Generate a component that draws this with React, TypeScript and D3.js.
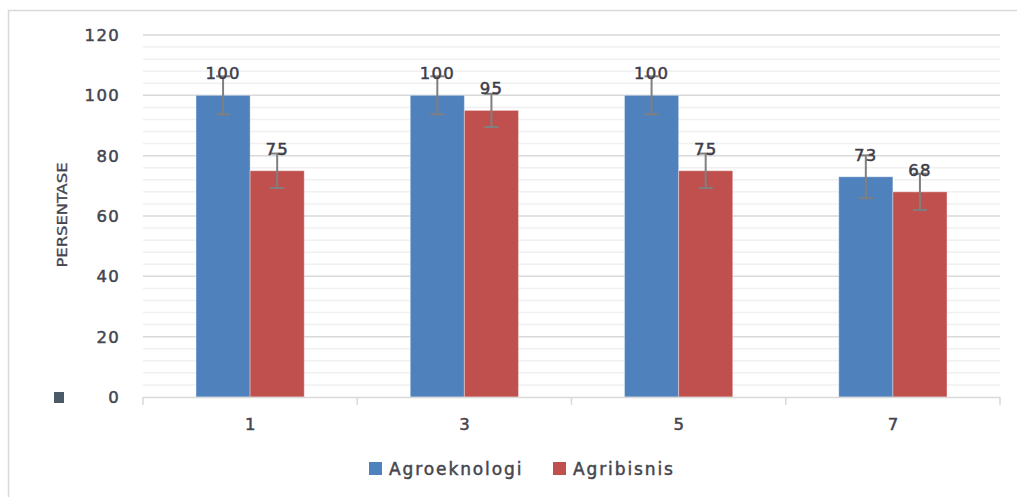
import { useEffect, useRef } from 'react';
import * as d3 from 'd3';

const categories = ['1', '3', '5', '7'];
const seriesNames = ['Agroeknologi', 'Agribisnis'];
const agroeknologi = [100, 100, 100, 73];
const agribisnis = [75, 95, 75, 68];
const agroeknologiErr = [6.3, 6.3, 6.3, 7.1];
const agribisnisErr = [5.7, 5.5, 5.7, 6.0];
const yTicks = [0, 20, 40, 60, 80, 100, 120];
const seriesColors = ['#4f81bd', '#c0504d'];

const FONT = '"DejaVu Sans", sans-serif';
const TEXT = '#45454f';

export default function App() {
  const ref = useRef<SVGSVGElement>(null);

  useEffect(() => {
    const svgElement = ref.current;
    if (!svgElement) {
      return;
    }
    const svg = d3.select(svgElement);
    svg.selectAll('*').remove();

    const width = 1017;
    const height = 497;
    const margin = { top: 35, right: 17, bottom: 100, left: 143 };
    const plotBottom = height - margin.bottom;

    svg.attr('viewBox', `0 0 ${width} ${height}`);

    svg
      .append('rect')
      .attr('x', 8.5)
      .attr('y', 10.5)
      .attr('width', 1030)
      .attr('height', 520)
      .attr('fill', '#fff')
      .attr('stroke', '#d9d9d9')
      .attr('stroke-width', 1.5);

    const x = d3
      .scaleBand<string>()
      .domain(categories)
      .range([margin.left, width - margin.right])
      .padding(0);

    const xInner = d3
      .scaleBand<string>()
      .domain(seriesNames)
      .range([0, x.bandwidth()])
      .paddingInner(0)
      .paddingOuter(0.98);

    const y = d3.scaleLinear().domain([0, 120]).range([plotBottom, margin.top]);

    // minor grid every 4, major every 20
    const minorTicks = d3.range(4, 120, 4).filter((v) => v % 20 !== 0);
    svg
      .append('g')
      .selectAll('line')
      .data(minorTicks)
      .join('line')
      .attr('x1', margin.left)
      .attr('x2', width - margin.right)
      .attr('y1', (v) => y(v))
      .attr('y2', (v) => y(v))
      .attr('stroke', '#f0f0f0')
      .attr('stroke-width', 1.5);

    svg
      .append('g')
      .selectAll('line')
      .data(yTicks.filter((v) => v > 0))
      .join('line')
      .attr('x1', margin.left)
      .attr('x2', width - margin.right)
      .attr('y1', (v) => y(v))
      .attr('y2', (v) => y(v))
      .attr('stroke', '#d9d9d9')
      .attr('stroke-width', 1.5);

    svg
      .append('g')
      .selectAll('text')
      .data(yTicks)
      .join('text')
      .attr('x', 120)
      .attr('y', (v) => y(v) + 6)
      .attr('text-anchor', 'end')
      .attr('font-family', FONT)
      .attr('font-size', 16.5)
      .attr('letter-spacing', 1.3)
      .attr('fill', TEXT)
      .attr('stroke', TEXT)
      .attr('stroke-width', 0.5)
      .text((v) => String(v));

    const rows = categories.map((cat, i) => ({
      cat,
      items: [
        { name: seriesNames[0], value: agroeknologi[i], err: agroeknologiErr[i], color: seriesColors[0] },
        { name: seriesNames[1], value: agribisnis[i], err: agribisnisErr[i], color: seriesColors[1] },
      ],
    }));

    const groups = svg
      .append('g')
      .selectAll('g')
      .data(rows)
      .join('g')
      .attr('transform', (row) => `translate(${x(row.cat) ?? 0},0)`);

    groups
      .selectAll('rect')
      .data((row) => row.items)
      .join('rect')
      .attr('x', (d) => xInner(d.name) ?? 0)
      .attr('y', (d) => y(d.value))
      .attr('width', xInner.bandwidth())
      .attr('height', (d) => plotBottom - y(d.value))
      .attr('fill', (d) => d.color)
      .attr('stroke', '#fff')
      .attr('stroke-opacity', 0.35)
      .attr('stroke-width', 1);

    // axis line and ticks
    const axis = svg.append('g');
    axis
      .append('line')
      .attr('x1', margin.left)
      .attr('x2', width - margin.right)
      .attr('y1', plotBottom + 0.5)
      .attr('y2', plotBottom + 0.5)
      .attr('stroke', '#d9d9d9')
      .attr('stroke-width', 1.5);
    axis
      .selectAll('line.tick')
      .data([...categories.map((c) => x(c) ?? 0), width - margin.right])
      .join('line')
      .attr('class', 'tick')
      .attr('x1', (v) => v)
      .attr('x2', (v) => v)
      .attr('y1', plotBottom)
      .attr('y2', plotBottom + 8)
      .attr('stroke', '#d9d9d9')
      .attr('stroke-width', 1.5);

    axis
      .selectAll('text')
      .data(categories)
      .join('text')
      .attr('x', (c) => (x(c) ?? 0) + x.bandwidth() / 2)
      .attr('y', 430)
      .attr('text-anchor', 'middle')
      .attr('font-family', FONT)
      .attr('font-size', 16.5)
      .attr('fill', TEXT)
      .attr('stroke', TEXT)
      .attr('stroke-width', 0.5)
      .text((c) => c);

    // error bars
    const errG = groups
      .selectAll('g.err')
      .data((row) => row.items)
      .join('g')
      .attr('class', 'err')
      .attr('transform', (d) => `translate(${(xInner(d.name) ?? 0) + xInner.bandwidth() / 2},0)`);
    errG
      .append('line')
      .attr('y1', (d) => y(d.value + d.err))
      .attr('y2', (d) => y(d.value - d.err))
      .attr('stroke', '#7f7f7f')
      .attr('stroke-width', 2);
    errG
      .append('line')
      .attr('x1', -7)
      .attr('x2', 7)
      .attr('y1', (d) => y(d.value - d.err))
      .attr('y2', (d) => y(d.value - d.err))
      .attr('stroke', '#7f7f7f')
      .attr('stroke-width', 2);
    errG
      .append('line')
      .attr('x1', -7)
      .attr('x2', 7)
      .attr('y1', (d) => y(d.value + d.err))
      .attr('y2', (d) => y(d.value + d.err))
      .attr('stroke', '#7f7f7f')
      .attr('stroke-width', 2);

    // data labels
    groups
      .selectAll('text')
      .data((row) => row.items)
      .join('text')
      .attr('x', (d) => (xInner(d.name) ?? 0) + xInner.bandwidth() / 2)
      .attr('y', (d) => y(d.value) - 16)
      .attr('text-anchor', 'middle')
      .attr('font-family', FONT)
      .attr('font-size', 16.5)
      .attr('letter-spacing', 1.2)
      .attr('fill', '#3d3d4a')
      .attr('stroke', '#3d3d4a')
      .attr('stroke-width', 0.5)
      .text((d) => String(d.value));

    // y axis title
    svg
      .append('text')
      .attr('transform', 'translate(67,215) rotate(-90)')
      .attr('text-anchor', 'middle')
      .attr('font-family', '"DejaVu Sans Condensed", "DejaVu Sans", sans-serif')
      .attr('font-size', 14)
      .attr('textLength', 105)
      .attr('lengthAdjust', 'spacingAndGlyphs')
      .attr('fill', TEXT)
      .attr('stroke', TEXT)
      .attr('stroke-width', 0.3)
      .text('PERSENTASE');

    svg
      .append('rect')
      .attr('x', 54)
      .attr('y', 392)
      .attr('width', 10)
      .attr('height', 11)
      .attr('fill', '#4a5a68');

    // legend
    const legendX = [369, 553];
    const legend = svg
      .append('g')
      .selectAll('g')
      .data(seriesNames)
      .join('g')
      .attr('transform', (_d, i) => `translate(${legendX[i]},462)`);
    legend
      .append('rect')
      .attr('width', 13)
      .attr('height', 13)
      .attr('fill', (_d, i) => seriesColors[i]);
    legend
      .append('text')
      .attr('x', 20)
      .attr('y', 13)
      .attr('font-family', FONT)
      .attr('font-size', 17)
      .attr('letter-spacing', 1.9)
      .attr('fill', TEXT)
      .attr('stroke', TEXT)
      .attr('stroke-width', 0.5)
      .text((d) => d);
  }, []);

  return (
    <div style={{ position: 'absolute', left: 0, top: 0 }}>
      <svg ref={ref} width={1017} height={497} style={{ display: 'block' }} />
    </div>
  );
}
